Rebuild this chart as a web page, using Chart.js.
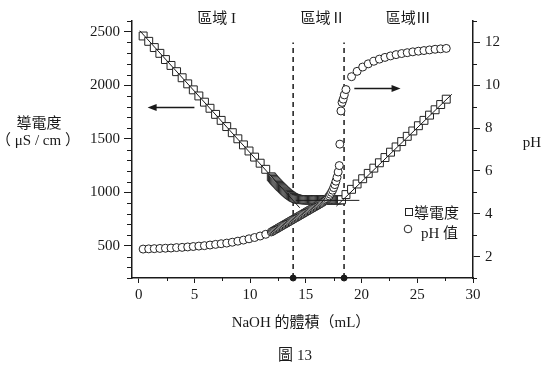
<!DOCTYPE html>
<html><head><meta charset="utf-8">
<script src="https://cdn.jsdelivr.net/npm/chart.js@4/dist/chart.umd.min.js"></script>
<style>html,body{margin:0;padding:0;background:#fff}canvas{display:block}</style>
</head><body>
<canvas id="c" width="555" height="373"></canvas>
<script>
// ---- data ----
const condVolume = [
 0.4,0.9,1.4,1.9,2.4,2.9,3.4,3.9,4.4,4.9,5.4,5.9,6.4,6.9,7.4,7.9,8.4,8.9,9.4,9.9,10.4,10.9,11.4,
 11.9,12.0,12.1,12.2,12.3,12.4,12.5,12.6,12.7,12.8,12.9,13.0,13.1,13.2,13.3,13.4,13.5,13.6,13.7,13.8,13.9,
 14.0,14.1,14.2,14.3,14.4,14.5,14.6,14.7,14.8,14.9,15.0,15.1,15.2,15.3,15.4,15.5,15.6,15.7,15.8,15.9,
 16.0,16.1,16.2,16.3,16.4,16.5,16.6,16.7,16.8,16.9,17.0,17.1,17.2,17.3,17.4,17.5,17.6,17.7,17.8,17.9,18.0,18.1,18.2,
 18.6,19.1,19.6,20.1,20.6,21.1,21.6,22.1,22.6,23.1,23.6,24.1,24.6,25.1,25.6,26.1,26.6,27.1,27.6
];
const condValue = [
 2460,2410,2352,2298,2240,2185,2127,2070,2013,1957,1900,1842,1785,1728,1672,1614,1557,1500,1443,1386,1329,1272,1215,
 1145,1133,1121,1109,1098,1087,1076,1065,1054,1044,1034,1024,1014,1005,996,987,979,971,964,957,951,
 946,942,939,936,934,933,932,931,931,930,930,931,930,929,930,931,930,930,929,930,
 931,930,930,929,930,931,930,930,929,930,930,931,930,929,930,930,931,930,929,930,931,930,930,
 979,1028,1078,1127,1177,1226,1276,1325,1375,1424,1474,1523,1573,1622,1672,1721,1771,1820,1870
];
const phVolume = [
 0.4,0.9,1.4,1.9,2.4,2.9,3.4,3.9,4.4,4.9,5.4,5.9,6.4,6.9,7.4,7.9,8.4,8.9,9.4,9.9,10.4,10.9,11.4,
 11.9,12.0,12.1,12.2,12.3,12.4,12.5,12.6,12.7,12.8,12.9,13.0,13.1,13.2,13.3,13.4,13.5,13.6,13.7,13.8,13.9,
 14.0,14.1,14.2,14.3,14.4,14.5,14.6,14.7,14.8,14.9,15.0,15.1,15.2,15.3,15.4,15.5,15.6,15.7,15.8,15.9,
 16.0,16.1,16.2,16.3,16.4,16.5,16.6,16.7,16.8,16.9,17.0,17.1,17.2,17.3,17.4,17.5,17.6,17.7,17.8,17.9,18.0,
 18.05,18.15,18.25,18.35,18.45,18.6,
 19.1,19.6,20.1,20.6,21.1,21.6,22.1,22.6,23.1,23.6,24.1,24.6,25.1,25.6,26.1,26.6,27.1,27.6
];
const phValue = [
 2.35,2.36,2.37,2.38,2.39,2.40,2.42,2.43,2.45,2.47,2.49,2.51,2.54,2.57,2.60,2.63,2.67,2.72,2.77,2.83,2.89,2.96,3.04,
 3.15,3.18,3.21,3.24,3.27,3.30,3.33,3.36,3.39,3.42,3.45,3.48,3.51,3.54,3.57,3.60,3.63,3.66,3.69,3.72,3.75,
 3.78,3.81,3.84,3.87,3.90,3.93,3.96,3.99,4.02,4.05,4.08,4.11,4.14,4.17,4.20,4.23,4.26,4.29,4.32,4.35,
 4.38,4.41,4.44,4.47,4.50,4.53,4.57,4.61,4.65,4.70,4.76,4.83,4.91,5.00,5.10,5.22,5.36,5.52,5.70,5.95,6.25,
 7.25,8.80,9.20,9.35,9.55,9.80,
 10.40,10.65,10.85,11.00,11.12,11.22,11.30,11.37,11.43,11.48,11.52,11.56,11.59,11.62,11.65,11.68,11.70,11.72
];
// fitted straight lines (conductivity axis)
const fitLeftX = [0.1, 14.45],  fitLeftY = [2509, 856];
const fitMidX  = [14.1, 19.8],  fitMidY  = [925, 925];
const fitRightX = [17.74, 28.1], fitRightY = [871, 1916];
// equivalence-point markers
const markerVolumes = [13.86, 18.43];
const markerTop = 2400;
// arrows (conductivity axis units)
const arrowLeft  = {from: [5.0, 1793], to: [0.8, 1793]};
const arrowRight = {from: [19.35, 1969], to: [23.5, 1969]};
// ticks
const xTicks = [0,5,10,15,20,25,30];
const xMinor = [2.5,7.5,12.5,17.5,22.5,27.5];
const condTicks = [500,1000,1500,2000,2500];
const condMinor = [200,300,400,600,700,800,900,1100,1200,1300,1400,1600,1700,1800,1900,2100,2200,2300,2400,2600];
const phTicks = [2,4,6,8,10,12];
const phMinor = [1,3,5,7,9,11,13];
// region labels (x position in mL)
const regionNames = ['區域 I','區域Ⅱ','區域Ⅲ'];
const regionX = [7.0, 16.55, 24.2];

const SERIF = "'Liberation Serif','Times New Roman',serif";
const CJK = "'Noto Sans CJK TC','Noto Sans CJK SC',sans-serif";
const MIX = "'Liberation Serif','Noto Sans CJK TC',serif";
const INK = '#1a1a1a';

const pts = (xs, ys) => xs.map((x, i) => ({x, y: ys[i]}));

const annot = {
  id: 'annot',
  afterDatasetsDraw(chart) {
    const ctx = chart.ctx, xs = chart.scales.x, ys = chart.scales.y;
    ctx.save();
    ctx.strokeStyle = INK; ctx.fillStyle = INK; ctx.lineWidth = 1.5;
    for (const a of [arrowLeft, arrowRight]) {
      const x1 = xs.getPixelForValue(a.from[0]), y1 = ys.getPixelForValue(a.from[1]);
      const x2 = xs.getPixelForValue(a.to[0]), y2 = ys.getPixelForValue(a.to[1]);
      const dir = Math.sign(x2 - x1);
      ctx.beginPath(); ctx.moveTo(x1, y1); ctx.lineTo(x2 - dir * 6, y2); ctx.stroke();
      ctx.beginPath(); ctx.moveTo(x2, y2); ctx.lineTo(x2 - dir * 9, y2 - 3.5); ctx.lineTo(x2 - dir * 9, y2 + 3.5); ctx.closePath(); ctx.fill();
    }
    ctx.restore();
  },
  afterDraw(chart) {
    const ctx = chart.ctx, a = chart.chartArea;
    const xs = chart.scales.x, ys = chart.scales.y, y2 = chart.scales.y2;
    ctx.save();
    ctx.strokeStyle = INK; ctx.lineWidth = 1;
    ctx.beginPath();
    for (const v of xMinor) { const p = Math.round(xs.getPixelForValue(v)) + 0.5; ctx.moveTo(p, a.bottom); ctx.lineTo(p, a.bottom + 3); }
    for (const v of condMinor) { const p = Math.round(ys.getPixelForValue(v)) + 0.5; ctx.moveTo(a.left - 5, p); ctx.lineTo(a.left, p); }
    for (const v of phMinor) { const p = Math.round(y2.getPixelForValue(v)) + 0.5; ctx.moveTo(a.right, p); ctx.lineTo(a.right + 4, p); }
    ctx.stroke();

    ctx.fillStyle = INK; ctx.textBaseline = 'middle'; ctx.textAlign = 'center';
    ctx.font = "15px " + MIX;
    regionNames.forEach((t, i) => ctx.fillText(t, xs.getPixelForValue(regionX[i]), 19));
    ctx.font = "15px " + CJK;
    ctx.fillText('導電度', 39, 122);
    ctx.font = "15px " + MIX;
    ctx.fillText('（ μS / cm ）', 38, 141);
    ctx.fillText('pH', 532, 143);
    ctx.fillText('NaOH 的體積（mL）', 301, 323);
    ctx.fillText('圖 13', 295, 356);

    // legend
    ctx.textAlign = 'left';
    ctx.fillStyle = '#fff'; ctx.strokeStyle = '#222'; ctx.lineWidth = 1;
    ctx.fillRect(405.5, 208.5, 7, 7); ctx.strokeRect(405.5, 208.5, 7, 7);
    ctx.beginPath(); ctx.arc(408, 229, 3.8, 0, Math.PI * 2); ctx.fill(); ctx.stroke();
    ctx.fillStyle = INK;
    ctx.font = "15px " + CJK;
    ctx.fillText('導電度', 414, 212);
    ctx.font = "15px " + MIX;
    ctx.fillText('pH 值', 421, 234);
    ctx.restore();
  }
};

new Chart(document.getElementById('c'), {
  type: 'scatter',
  data: {
    datasets: [
      {data: pts(fitLeftX, fitLeftY), showLine: true, pointRadius: 0, borderColor: INK, borderWidth: 1, yAxisID: 'y', order: 0},
      {data: pts(fitMidX, fitMidY), showLine: true, pointRadius: 0, borderColor: INK, borderWidth: 1, yAxisID: 'y', order: 0},
      {data: pts(fitRightX, fitRightY), showLine: true, pointRadius: 0, borderColor: INK, borderWidth: 1, yAxisID: 'y', order: 0},
      {label: 'pH 值', data: pts(phVolume, phValue), yAxisID: 'y2', pointStyle: 'circle', pointRadius: 4,
       backgroundColor: '#fff', borderColor: '#222', borderWidth: 1, order: 2},
      {label: '導電度', data: pts(condVolume, condValue), yAxisID: 'y', pointStyle: 'rect', pointRadius: 5.6,
       backgroundColor: '#fff', borderColor: '#222', borderWidth: 1, order: 3},
      {data: pts([markerVolumes[0], markerVolumes[0]], [200, markerTop]), showLine: true, pointRadius: 0,
       borderColor: INK, borderWidth: 1.5, borderDash: [5, 4], yAxisID: 'y', order: 4},
      {data: pts([markerVolumes[1], markerVolumes[1]], [200, markerTop]), showLine: true, pointRadius: 0,
       borderColor: INK, borderWidth: 1.5, borderDash: [5, 4], yAxisID: 'y', order: 4},
      {data: pts(markerVolumes, [200, 200]), pointRadius: 3, backgroundColor: INK, borderColor: INK, yAxisID: 'y', clip: false, order: 0}
    ]
  },
  options: {
    responsive: false, animation: false, devicePixelRatio: 1,
    layout: {padding: {top: 21, left: 0, right: 0, bottom: 0}},
    plugins: {legend: {display: false}, tooltip: {enabled: false}},
    scales: {
      x: {
        type: 'linear', min: -0.6, max: 30,
        afterFit: s => { s.height = 95; },
        afterBuildTicks: s => { s.ticks = xTicks.map(v => ({value: v})); },
        ticks: {font: {family: SERIF, size: 15}, color: INK, padding: 3, callback: v => String(v), maxRotation: 0, autoSkip: false},
        grid: {drawOnChartArea: false, tickLength: 5, color: INK, tickColor: INK},
        border: {color: INK, width: 1.5}
      },
      y: {
        type: 'linear', position: 'left', min: 200, max: 2600,
        afterFit: s => { s.width = 132; },
        afterBuildTicks: s => { s.ticks = condTicks.map(v => ({value: v})); },
        ticks: {font: {family: SERIF, size: 15}, color: INK, padding: 4, callback: v => String(v)},
        grid: {drawOnChartArea: false, tickLength: 8, color: INK, tickColor: INK},
        border: {color: INK, width: 1.5}
      },
      y2: {
        type: 'linear', position: 'right', min: 1, max: 13,
        afterFit: s => { s.width = 82; },
        afterBuildTicks: s => { s.ticks = phTicks.map(v => ({value: v})); },
        ticks: {font: {family: SERIF, size: 15}, color: INK, padding: 5, callback: v => String(v)},
        grid: {drawOnChartArea: false, tickLength: 7, color: INK, tickColor: INK},
        border: {color: INK, width: 1.5}
      }
    }
  },
  plugins: [annot]
});
</script>
</body></html>
